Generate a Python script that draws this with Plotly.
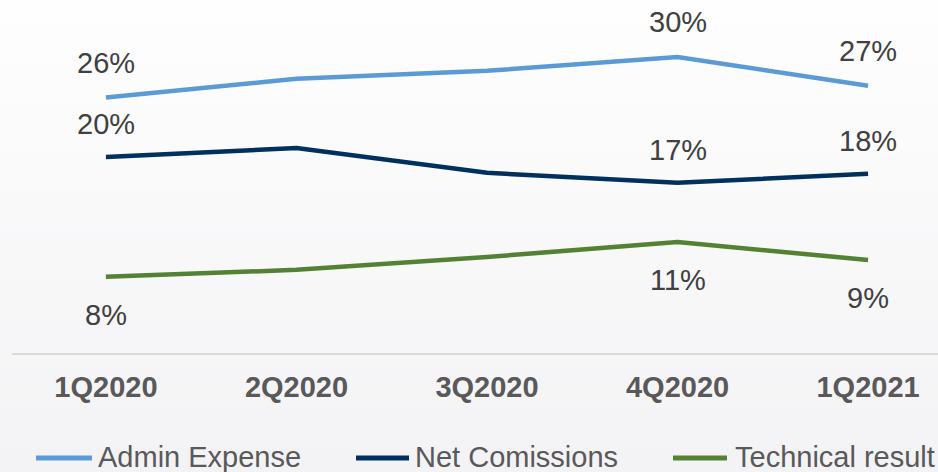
import plotly.graph_objects as go

# Quarterly ratios (% of premiums)
quarters = ["1Q2020", "2Q2020", "3Q2020", "4Q2020", "1Q2021"]
admin_expense = [25.8, 27.7, 28.5, 29.9, 27.0]
net_comissions = [19.8, 20.7, 18.2, 17.2, 18.1]
technical_result = [7.7, 8.4, 9.7, 11.2, 9.4]
labelled_quarters = ["1Q2020", "4Q2020", "1Q2021"]

series_names = ["Admin Expense", "Net Comissions", "Technical result"]
series_values = [admin_expense, net_comissions, technical_result]
series_colors = ["#5b9bd5", "#00305e", "#548235"]
label_shift = [35, 33, -38]  # value label offset in px (positive = above)

W, H = 938, 472
M_L, M_R, M_T, M_B = 12, 0, 0, 119
PW, PH = W - M_L - M_R, H - M_T - M_B


def px_to_paper(px, py):
    return (px - M_L) / PW, (H - M_B - py) / PH


fig = go.Figure()

for name, vals, color in zip(series_names, series_values, series_colors):
    fig.add_trace(go.Scatter(
        x=quarters, y=vals, name=name, mode="lines",
        line=dict(color=color, width=4.5),
        showlegend=False, hoverinfo="skip",
    ))

annotations = []
for vals, shift in zip(series_values, label_shift):
    for q, v in zip(quarters, vals):
        if q not in labelled_quarters:
            continue
        annotations.append(dict(
            x=q, y=v, xref="x", yref="y", text=f"{v:.0f}%",
            showarrow=False, yshift=shift, yanchor="middle",
            font=dict(family="Liberation Sans, Arial, sans-serif", size=29, color="#404040"),
        ))

shapes = []
# vertical background gradient across the whole figure
n_strips = 59
top_rgb = (254, 254, 254)
bot_rgb = (243, 243, 245)
for i in range(n_strips):
    t = (i + 0.5) / n_strips
    rgb = tuple(round(a + (b - a) * t) for a, b in zip(top_rgb, bot_rgb))
    y_top = H * i / n_strips
    y_bot = H * (i + 1) / n_strips
    x0, y0 = px_to_paper(0, y_bot + 0.5)
    x1, y1 = px_to_paper(W, y_top - 0.5)
    shapes.append(dict(
        type="rect", xref="paper", yref="paper", x0=x0, x1=x1, y0=y0, y1=y1,
        fillcolor="rgb(%d,%d,%d)" % rgb, line=dict(width=0), layer="below",
    ))

# legend row
legend_items = [(36, 92, 96), (356, 409, 413), (673, 727, 733)]
legend_y = 458
for (lx0, lx1, tx), name, color in zip(legend_items, series_names, series_colors):
    a0, b0 = px_to_paper(lx0, legend_y)
    a1, _ = px_to_paper(lx1, legend_y)
    shapes.append(dict(
        type="line", xref="paper", yref="paper", x0=a0, x1=a1, y0=b0, y1=b0,
        line=dict(color=color, width=5),
    ))
    ta, tb = px_to_paper(tx, legend_y - 1)
    annotations.append(dict(
        x=ta, y=tb, xref="paper", yref="paper", text=name, showarrow=False,
        xanchor="left", yanchor="middle",
        font=dict(family="Liberation Sans, Arial, sans-serif", size=29, color="#595959"),
    ))

fig.update_layout(
    width=W, height=H,
    margin=dict(l=M_L, r=M_R, t=M_T, b=M_B, pad=0),
    paper_bgcolor="white",
    plot_bgcolor="rgba(0,0,0,0)",
    showlegend=False,
    shapes=shapes,
    annotations=annotations,
    xaxis=dict(
        type="category", range=[-0.493, 4.367],
        showgrid=False, zeroline=False,
        showline=True, linecolor="#d9d9d9", linewidth=1.5,
        ticks="", ticklabelstandoff=7,
        tickfont=dict(family="Liberation Sans, Arial, sans-serif", size=29,
                      color="#595959", weight="bold"),
    ),
    yaxis=dict(
        range=[0, PH / 9.9], showgrid=False, zeroline=False,
        showticklabels=False, showline=False,
    ),
)

fig.write_html("out.html")
